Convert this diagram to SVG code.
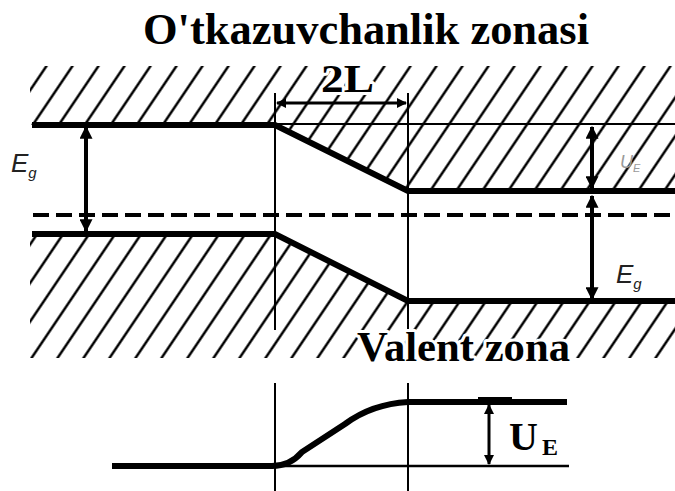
<svg xmlns="http://www.w3.org/2000/svg" width="675" height="491" viewBox="0 0 675 491">
<style>
.band{fill:none;stroke:#000;stroke-width:6;stroke-linejoin:miter}
.thin{fill:none;stroke:#000;stroke-width:2}
.arr{fill:none;stroke:#000;stroke-width:4}
.big{font-family:"Liberation Serif","Times New Roman",serif;font-weight:bold;font-size:44px;fill:#000}
.halo{stroke:#fff;stroke-width:6;paint-order:stroke;stroke-linejoin:round}
.eg{font-family:"Liberation Sans",Arial,sans-serif;font-style:italic;fill:#222}
</style>
<defs>
<pattern id="hatch" width="26" height="120" patternUnits="userSpaceOnUse" patternTransform="skewX(-34)">
<line x1="13" y1="0" x2="13" y2="120" stroke="#000" stroke-width="3"/>
</pattern>
<marker id="ah" viewBox="0 0 10 10" refX="9" refY="5" markerUnits="userSpaceOnUse" markerWidth="13" markerHeight="13" orient="auto-start-reverse">
<path d="M0,0 L10,5 L0,10 Z" fill="#000"/>
</marker>
<marker id="ahs" viewBox="0 0 10 10" refX="9" refY="5" markerUnits="userSpaceOnUse" markerWidth="14" markerHeight="10" orient="auto-start-reverse">
<path d="M0,0 L10,5 L0,10 Z" fill="#000"/>
</marker>
</defs>
<rect width="675" height="491" fill="#fff"/>

<g id="hatching">
<polygon points="30,66 675,66 675,190 408,190 275,125 30,125" fill="url(#hatch)"/>
<polygon points="30,233 275,233 408,300 675,300 675,358 30,358" fill="url(#hatch)"/>
</g>

<g id="bands">
<polyline class="band" points="32,125 275,125 408,191 675,191"/>
<line class="thin" x1="275" y1="124" x2="675" y2="124"/>
<polyline class="band" points="32,234 275,234 408,301 675,301"/>
<line x1="33" y1="215" x2="675" y2="215" stroke="#000" stroke-width="4" stroke-dasharray="16 7"/>
<line class="thin" x1="275" y1="93" x2="275" y2="330"/>
<line class="thin" x1="408" y1="93" x2="408" y2="330"/>
</g>

<g id="graph">
<line class="thin" x1="275" y1="383" x2="275" y2="491"/>
<line class="thin" x1="408" y1="383" x2="408" y2="491"/>
<line x1="275" y1="466" x2="569" y2="466" stroke="#000" stroke-width="2.5"/>
<path d="M112,466 L272,466 Q290,466 302,452 L345,424 Q372,404 408,402 L567,402" fill="none" stroke="#000" stroke-width="6"/>
<line x1="478" y1="400" x2="512" y2="400" stroke="#000" stroke-width="6"/>
</g>

<g id="connectors">
<line class="arr" x1="86" y1="127" x2="86" y2="231" marker-start="url(#ah)" marker-end="url(#ah)"/>
<line class="arr" x1="592" y1="127" x2="592" y2="188" marker-start="url(#ah)" marker-end="url(#ah)"/>
<line class="arr" x1="592" y1="196" x2="592" y2="299" marker-start="url(#ah)" marker-end="url(#ah)"/>
<line x1="277" y1="103" x2="406" y2="103" stroke="#000" stroke-width="3" marker-start="url(#ahs)" marker-end="url(#ahs)"/>
<line x1="489" y1="405" x2="489" y2="464" stroke="#000" stroke-width="3" marker-start="url(#ahs)" marker-end="url(#ahs)"/>
</g>

<g id="title"><text class="big" x="143" y="44" textLength="446" lengthAdjust="spacingAndGlyphs">O'tkazuvchanlik zonasi</text></g>
<g id="label-2L"><text class="big halo" x="321" y="92" style="font-size:41px" textLength="53" lengthAdjust="spacingAndGlyphs">2L</text></g>
<g id="label-valent"><text class="big halo" x="357" y="361" style="font-size:42px" textLength="213" lengthAdjust="spacingAndGlyphs">Valent zona</text></g>
<g id="label-eg-left"><text class="eg" x="11" y="172" font-size="26">E<tspan font-size="15" dy="6">g</tspan></text></g>
<g id="label-eg-right"><text class="eg" x="616" y="283" font-size="26">E<tspan font-size="15" dy="6">g</tspan></text></g>
<g id="label-ue-top"><text class="eg" x="620" y="168" font-size="18" style="fill:#9a9a9a">U<tspan font-size="11" dy="4">E</tspan></text></g>
<g id="label-ue"><text class="big" x="509" y="450" style="font-size:40px">U<tspan style="font-size:24px" dx="4" dy="5">E</tspan></text></g>
</svg>
